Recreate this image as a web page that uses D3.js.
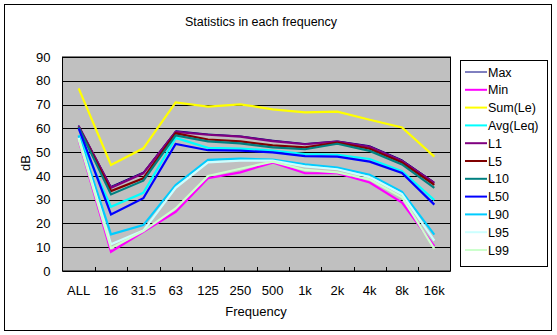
<!DOCTYPE html>
<html><head><meta charset="utf-8">
<script src="https://cdn.jsdelivr.net/npm/d3@7"></script>
<style>
html,body{margin:0;padding:0;background:#fff;}
svg text{font-family:"Liberation Sans",Arial,sans-serif;font-size:12px;fill:#000;}
</style></head>
<body>
<svg id="c" width="557" height="335"></svg>
<script>
const categories = ["ALL","16","31.5","63","125","250","500","1k","2k","4k","8k","16k"];
const yTicks = [0,10,20,30,40,50,60,70,80,90];
const seriesNames = ["Max","Min","Sum(Le)","Avg(Leq)","L1","L5","L10","L50","L90","L95","L99"];
const seriesColors = ["#000080","#ff00ff","#ffff00","#00ffff","#800080","#800000","#008080","#0000ff","#00ccff","#ccffff","#ccffcc"];
const maxVals  = [61.3, 35.6, 41.6, 59.0, 57.6, 56.8, 55.0, 53.6, 54.7, 52.7, 46.8, 37.4];
const minVals  = [55.0,  8.1, 16.5, 24.9, 39.0, 41.5, 45.6, 41.1, 41.1, 37.2, 28.8, 10.5];
const sumVals  = [76.8, 44.6, 51.6, 70.9, 69.1, 70.1, 68.0, 66.7, 67.0, 63.6, 60.4, 48.1];
const avgVals  = [57.0, 27.0, 32.9, 56.0, 51.8, 51.5, 50.6, 49.2, 48.9, 47.1, 42.0, 29.8];
const l1Vals   = [61.0, 35.0, 41.1, 58.5, 57.3, 56.5, 54.6, 53.3, 54.4, 52.2, 46.3, 37.0];
const l5Vals   = [60.5, 33.6, 39.0, 57.9, 55.3, 54.5, 52.8, 52.0, 54.0, 51.4, 45.6, 36.2];
const l10Vals  = [60.5, 32.2, 38.0, 57.0, 54.5, 53.7, 52.0, 51.2, 53.5, 50.5, 44.8, 35.0];
const l50Vals  = [60.0, 23.8, 30.6, 53.4, 50.8, 50.6, 49.9, 48.3, 48.1, 46.0, 41.2, 27.9];
const l90Vals  = [57.0, 15.4, 19.3, 36.2, 46.7, 47.3, 46.8, 44.9, 43.5, 40.5, 33.3, 15.3];
const l95Vals  = [56.0, 11.2, 17.0, 35.0, 45.7, 46.4, 46.4, 44.0, 42.8, 39.5, 32.3, 12.8];
const l99Vals  = [55.3,  9.6, 16.8, 26.3, 40.0, 43.0, 46.0, 42.5, 41.5, 38.5, 31.0,  9.3];

const seriesValues = [maxVals,minVals,sumVals,avgVals,l1Vals,l5Vals,l10Vals,l50Vals,l90Vals,l95Vals,l99Vals];

const svg = d3.select("#c");
// chart border
svg.append("rect").attr("x",4.5).attr("y",4.5).attr("width",547).attr("height",326)
  .attr("fill","#fff").attr("stroke","#000").attr("stroke-width",1);

const L=62.5, R=450.5, T=57, B=271;
const x = d3.scaleBand().domain(categories).range([L,R]).padding(0);
const y = d3.scaleLinear().domain([0,90]).range([B,T]);

svg.append("rect").attr("x",L).attr("y",T).attr("width",R-L).attr("height",B-T).attr("fill","#c0c0c0");

// grid
svg.append("g").selectAll("line").data(yTicks.filter(d=>d>0)).join("line")
  .attr("x1",L).attr("x2",R).attr("y1",d=>Math.round(y(d))+0.5).attr("y2",d=>Math.round(y(d))+0.5)
  .attr("stroke","#000").attr("stroke-width",1);

// plot border
svg.append("rect").attr("x",L).attr("y",T).attr("width",R-L).attr("height",B-T)
  .attr("fill","none").attr("stroke","#000").attr("stroke-width",1);

// y axis
const ya = svg.append("g").attr("transform",`translate(${L},0)`)
  .call(d3.axisLeft(y).tickValues(yTicks).tickSize(0).tickPadding(12));
ya.select(".domain").remove();
ya.selectAll("text").style("font-size","13px").attr("fill","#000");

// x axis
const xa = svg.append("g").attr("transform",`translate(0,${B})`)
  .call(d3.axisBottom(x).tickSize(0).tickPadding(15));
xa.select(".domain").remove();
xa.selectAll("text").style("font-size","13px").attr("fill","#000");
// inner ticks at category boundaries
svg.append("g").selectAll("line").data(categories.slice(1)).join("line")
  .attr("x1",d=>Math.round(x(d))+0.5).attr("x2",d=>Math.round(x(d))+0.5)
  .attr("y1",B).attr("y2",B-4).attr("stroke","#000");
svg.append("line").attr("x1",L).attr("x2",R).attr("y1",B+0.5).attr("y2",B+0.5).attr("stroke","#000");

// lines
const line = d3.line().x((d,i)=>x(categories[i])+x.bandwidth()/2).y(d=>y(d));
seriesValues.forEach((vals,k)=>{
  svg.append("path").datum(vals).attr("d",line).attr("fill","none")
    .attr("stroke",seriesColors[k]).attr("stroke-width",k===0?1:2.2)
    .attr("stroke-linejoin","miter");
});

// titles
svg.append("text").attr("x",261).attr("y",26).attr("text-anchor","middle").style("font-size","12.5px")
  .text("Statistics in each frequency");
svg.append("text").attr("x",256).attr("y",316).attr("text-anchor","middle").style("font-size","13px")
  .text("Frequency");
svg.append("text").attr("transform","translate(30,163) rotate(-90)").attr("text-anchor","middle")
  .style("font-size","13px").text("dB");

// legend
const lg = svg.append("g");
lg.append("rect").attr("x",460.5).attr("y",60.5).attr("width",87).attr("height",206)
  .attr("fill","#fff").attr("stroke","#000");
seriesNames.forEach((n,i)=>{
  const yy = 72 + i*17.8;
  lg.append("line").attr("x1",465).attr("x2",487).attr("y1",yy).attr("y2",yy)
    .attr("stroke",seriesColors[i]).attr("stroke-width",i===0?1:2);
  lg.append("text").attr("x",488).attr("y",yy+4.5).style("font-size","12.5px").text(n);
});
</script>
</body></html>
